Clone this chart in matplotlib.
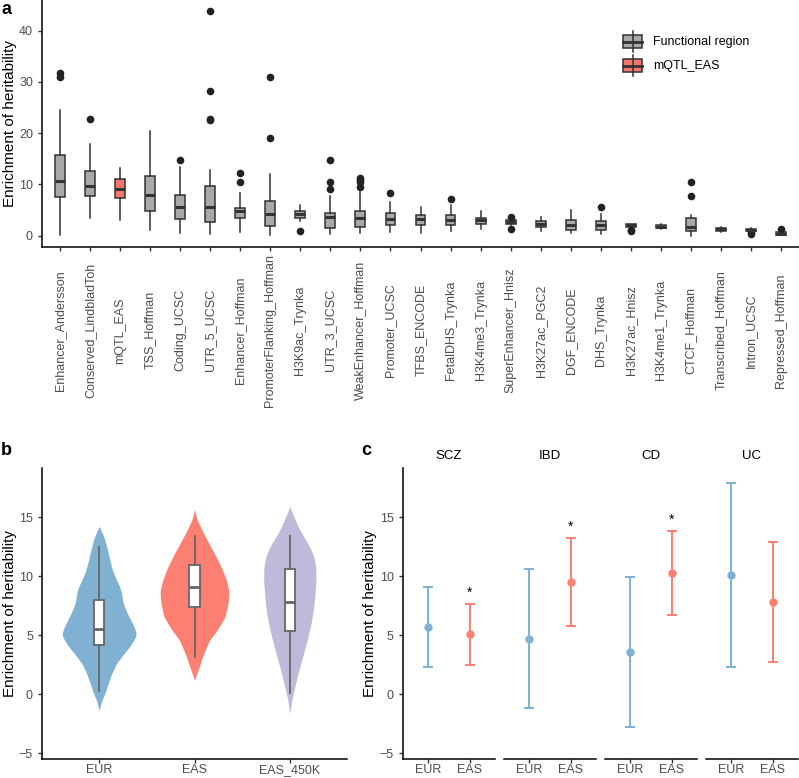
import numpy as np
import matplotlib
matplotlib.use('Agg')
import matplotlib.pyplot as plt
from matplotlib.patches import Rectangle
from matplotlib.lines import Line2D

plt.rcParams['font.family'] = ['Liberation Sans', 'DejaVu Sans']

# ---- panel a: enrichment per functional region (box stats)
regions = ['Enhancer_Andersson', 'Conserved_LindbladToh', 'mQTL_EAS', 'TSS_Hoffman',
           'Coding_UCSC', 'UTR_5_UCSC', 'Enhancer_Hoffman', 'PromoterFlanking_Hoffman',
           'H3K9ac_Trynka', 'UTR_3_UCSC', 'WeakEnhancer_Hoffman', 'Promoter_UCSC',
           'TFBS_ENCODE', 'FetalDHS_Trynka', 'H3K4me3_Trynka', 'SuperEnhancer_Hnisz',
           'H3K27ac_PGC2', 'DGF_ENCODE', 'DHS_Trynka', 'H3K27ac_Hnisz', 'H3K4me1_Trynka',
           'CTCF_Hoffman', 'Transcribed_Hoffman', 'Intron_UCSC', 'Repressed_Hoffman']
a_q1 = [7.5, 7.8, 7.3, 4.9, 3.3, 2.6, 3.4, 1.9, 3.5, 1.6, 1.8, 2.0, 2.1, 2.1, 2.3, 2.3,
        1.8, 1.2, 1.2, 1.7, 1.6, 1.0, 1.0, 1.0, 0.2]
a_med = [10.7, 9.8, 9.1, 8.0, 5.7, 5.7, 4.9, 4.3, 4.2, 3.7, 3.4, 3.2, 3.2, 3.1, 3.0, 2.6,
         2.3, 2.1, 2.0, 2.0, 1.8, 1.8, 1.3, 1.2, 0.4]
a_q3 = [15.7, 12.6, 11.0, 11.7, 7.9, 9.7, 5.5, 6.8, 4.9, 4.5, 4.9, 4.4, 4.1, 4.0, 3.4, 3.0,
        2.8, 3.1, 2.8, 2.2, 2.1, 3.4, 1.6, 1.4, 0.7]
a_lo = [0.2, 3.5, 3.1, 1.2, 0.5, 0.3, 0.8, 0.1, 2.9, 0.4, 0.5, 0.7, 0.5, 0.9, 1.4, 2.0,
        1.0, 0.5, 0.3, 1.5, 1.4, 0.0, 0.8, 0.8, 0.1]
a_hi = [24.6, 17.9, 13.3, 20.5, 13.4, 12.9, 8.3, 12.0, 6.0, 7.8, 8.5, 6.6, 5.6, 6.0, 4.9, 3.2,
        3.6, 5.1, 4.3, 2.3, 2.2, 4.1, 1.8, 1.5, 0.8]
a_out = [[31.0, 31.8], [22.8], [], [], [14.8], [22.5, 22.8, 28.3, 43.9], [10.4, 12.3],
         [19.0, 31.0], [1.0], [9.1, 10.5, 14.8], [9.5, 10.4, 10.9, 11.3], [8.4], [], [7.2],
         [], [1.4, 3.6], [], [], [5.7], [1.0, 1.2], [], [7.7, 10.5], [], [0.4, 0.7], [1.3]]

# ---- panel b: violin outlines (value, half width) and box stats
b_groups = ['EUR', 'EAS', 'EAS_450K']
eur_vy = [-1.36, -0.51, 0.06, 0.91, 1.76, 2.61, 3.46, 4.16, 4.87, 5.16, 5.72, 6.29, 6.86,
          7.42, 7.99, 8.56, 9.12, 9.69, 10.54, 11.39, 12.24, 13.09, 13.65, 14.22]
eur_vw = [0, .028, .059, .094, .132, .181, .261, .331, .383, .390, .366, .331, .296,
          .265, .244, .237, .216, .181, .139, .111, .087, .059, .035, 0]
eas_vy = [1.19, 2.32, 3.46, 4.59, 5.44, 6.57, 7.71, 8.70, 9.69, 10.82, 11.95, 13.09,
          13.94, 14.79, 15.64]
eas_vw = [0, .049, .098, .157, .237, .321, .352, .362, .334, .279, .209, .132, .077, .028, 0]
k450_vy = [-1.64, -0.51, 0.62, 1.76, 2.89, 4.02, 5.16, 6.29, 7.42, 8.56, 9.69, 10.82,
           11.67, 12.52, 13.37, 14.22, 15.07, 15.92]
k450_vw = [0, .021, .052, .087, .125, .164, .199, .230, .251, .265, .275, .272, .251,
           .209, .146, .087, .042, 0]
b_q1 = [4.2, 7.4, 5.4]
b_med = [5.5, 9.1, 7.8]
b_q3 = [8.0, 11.0, 10.6]
b_lo = [0.3, 3.2, 0.1]
b_hi = [12.5, 13.4, 13.4]

# ---- panel c: estimates with intervals per trait
traits = ['SCZ', 'IBD', 'CD', 'UC']
eur_est = [5.72, 4.70, 3.60, 10.14]
eur_lo = [2.32, -1.16, -2.78, 2.35]
eur_hi = [9.12, 10.59, 9.97, 17.96]
eas_est = [5.07, 9.55, 10.28, 7.82]
eas_lo = [2.46, 5.78, 6.69, 2.72]
eas_hi = [7.68, 13.29, 13.88, 12.92]
signif = [True, True, True, False]

W, H = 799, 778
GRAY_BOX = '#A8A8A8'
SALMON = '#F8766D'
BLUE = '#80B1D3'
RED = '#FB8072'
LAV = '#BEBADA'
TXT = '#4D4D4D'


def rect(l, t, r, b):
    return [l / W, 1 - b / H, (r - l) / W, (b - t) / H]


def style(ax, left=True):
    for s in ['top', 'right']:
        ax.spines[s].set_visible(False)
    ax.spines['bottom'].set_linewidth(1.1)
    ax.spines['left'].set_linewidth(1.1)
    ax.tick_params(length=3, width=1.0, color='#333333', labelcolor=TXT, labelsize=9)
    if not left:
        ax.spines['left'].set_visible(False)
        ax.tick_params(axis='y', left=False, labelleft=False)


fig = plt.figure(figsize=(W / 100, H / 100), dpi=100)

# ===== panel a
axa = fig.add_axes(rect(42, 0, 799, 247))
stats = []
for i, r in enumerate(regions):
    stats.append(dict(label=r, q1=a_q1[i], med=a_med[i], q3=a_q3[i],
                      whislo=a_lo[i], whishi=a_hi[i], fliers=a_out[i]))
pos = np.arange(1, len(regions) + 1)
res = axa.bxp(stats, positions=pos, widths=0.33, patch_artist=True, showcaps=False,
              boxprops=dict(facecolor=GRAY_BOX, edgecolor='#333333', linewidth=1.1),
              medianprops=dict(color='#333333', linewidth=2.2, solid_capstyle='butt'),
              whiskerprops=dict(color='#333333', linewidth=1.1),
              flierprops=dict(marker='o', markerfacecolor='#222222', markeredgecolor='none',
                              markersize=5.5))
for i, b in enumerate(res['boxes']):
    if regions[i] == 'mQTL_EAS':
        b.set_facecolor(SALMON)
axa.set_xlim(0.4, 25.6)
axa.set_ylim(-2.2, 46)
axa.set_yticks([0, 10, 20, 30, 40])
style(axa)
axa.set_xticks(pos)
axa.set_xticklabels(regions, rotation=90, va='center', ha='center')
axa.tick_params(axis='x', pad=57)

# legend drawn by hand (mini boxplot keys)
for (yt, yb, ym, yw0, yw1, col, lab) in [(35, 48.3, 41.7, 31, 51.7, GRAY_BOX, 'Functional region'),
                                         (59.3, 71.7, 65.7, 55, 76, SALMON, 'mQTL_EAS')]:
    fig.add_artist(Line2D([632.8 / W] * 2, [1 - yw0 / H, 1 - yw1 / H], color='#333333', lw=1.1,
                          transform=fig.transFigure))
    fig.add_artist(Rectangle((623.3 / W, 1 - yb / H), 19 / W, (yb - yt) / H, facecolor=col,
                             edgecolor='#333333', lw=1.1, transform=fig.transFigure))
    fig.add_artist(Line2D([623.3 / W, 642.3 / W], [1 - ym / H] * 2, color='#333333', lw=2.0,
                          transform=fig.transFigure))
    fig.text(653 / W, 1 - ym / H, lab, ha='left', va='center', fontsize=9, color='black')

fig.text(10 / W, 1 - 123.5 / H, 'Enrichment of heritability', rotation=90, ha='center',
         va='center', fontsize=11)
fig.text(1 / W, 1 - 9 / H, 'a', fontsize=13, fontweight='bold', ha='left', va='center')

# ===== panel b
axb = fig.add_axes(rect(42, 468, 347, 759))
shapes = [(eur_vy, eur_vw, BLUE), (eas_vy, eas_vw, RED), (k450_vy, k450_vw, LAV)]
kern = np.ones(9) / 9
for i, (vy, vw, col) in enumerate(shapes):
    yy = np.linspace(vy[0], vy[-1], 300)
    hw = np.interp(yy, vy, vw)
    hw = np.convolve(np.pad(hw, 4, mode='edge'), kern, mode='valid')
    hw[0] = hw[-1] = 0
    axb.fill_betweenx(yy, i + 1 - hw, i + 1 + hw, color=col, lw=0, zorder=1)
bstats = [dict(label=g, q1=b_q1[i], med=b_med[i], q3=b_q3[i], whislo=b_lo[i], whishi=b_hi[i],
               fliers=[]) for i, g in enumerate(b_groups)]
axb.bxp(bstats, positions=[1, 2, 3], widths=0.105, patch_artist=True, showcaps=False,
        showfliers=False,
        boxprops=dict(facecolor='white', edgecolor='#666666', linewidth=1.3),
        medianprops=dict(color='#666666', linewidth=2.0, solid_capstyle='butt'),
        whiskerprops=dict(color='#666666', linewidth=1.3))
axb.set_xlim(0.4, 3.6)
axb.set_ylim(-5.5, 19.2)
axb.set_yticks([-5, 0, 5, 10, 15])
style(axb)
axb.set_xticks([1, 2, 3])
axb.set_xticklabels(b_groups)
axb.tick_params(axis='x', pad=0.8)
fig.text(10 / W, 1 - 613.5 / H, 'Enrichment of heritability', rotation=90, ha='center',
         va='center', fontsize=11)
fig.text(1 / W, 1 - 450 / H, 'b', fontsize=13, fontweight='bold', ha='left', va='center')

# ===== panel c
for i, t in enumerate(traits):
    l = 402.7 + i * 101
    ax = fig.add_axes(rect(l, 468, l + 92.5, 759))
    ax.errorbar([1], [eur_est[i]], yerr=[[eur_est[i] - eur_lo[i]], [eur_hi[i] - eur_est[i]]],
                fmt='o', color=BLUE, ms=5, capsize=3.6, elinewidth=1.4, capthick=1.4)
    ax.errorbar([2], [eas_est[i]], yerr=[[eas_est[i] - eas_lo[i]], [eas_hi[i] - eas_est[i]]],
                fmt='o', color=RED, ms=5, capsize=3.6, elinewidth=1.4, capthick=1.4)
    if signif[i]:
        ax.text(2, eas_hi[i] + 0.9, '*', ha='center', va='center', fontsize=10)
    ax.set_xlim(0.4, 2.6)
    ax.set_ylim(-5.5, 19.2)
    ax.set_yticks([-5, 0, 5, 10, 15])
    style(ax, left=(i == 0))
    ax.set_xticks([1, 2])
    ax.set_xticklabels(['EUR', 'EAS'])
    ax.tick_params(axis='x', pad=0.8)
    ax.text(0.5, 1 + 12.3 / 291, t, transform=ax.transAxes, ha='center', va='center',
            fontsize=9.5)
fig.text(370 / W, 1 - 613.5 / H, 'Enrichment of heritability', rotation=90, ha='center',
         va='center', fontsize=11)
fig.text(361 / W, 1 - 450 / H, 'c', fontsize=13, fontweight='bold', ha='left', va='center')

fig.savefig('out.png', dpi=100)
